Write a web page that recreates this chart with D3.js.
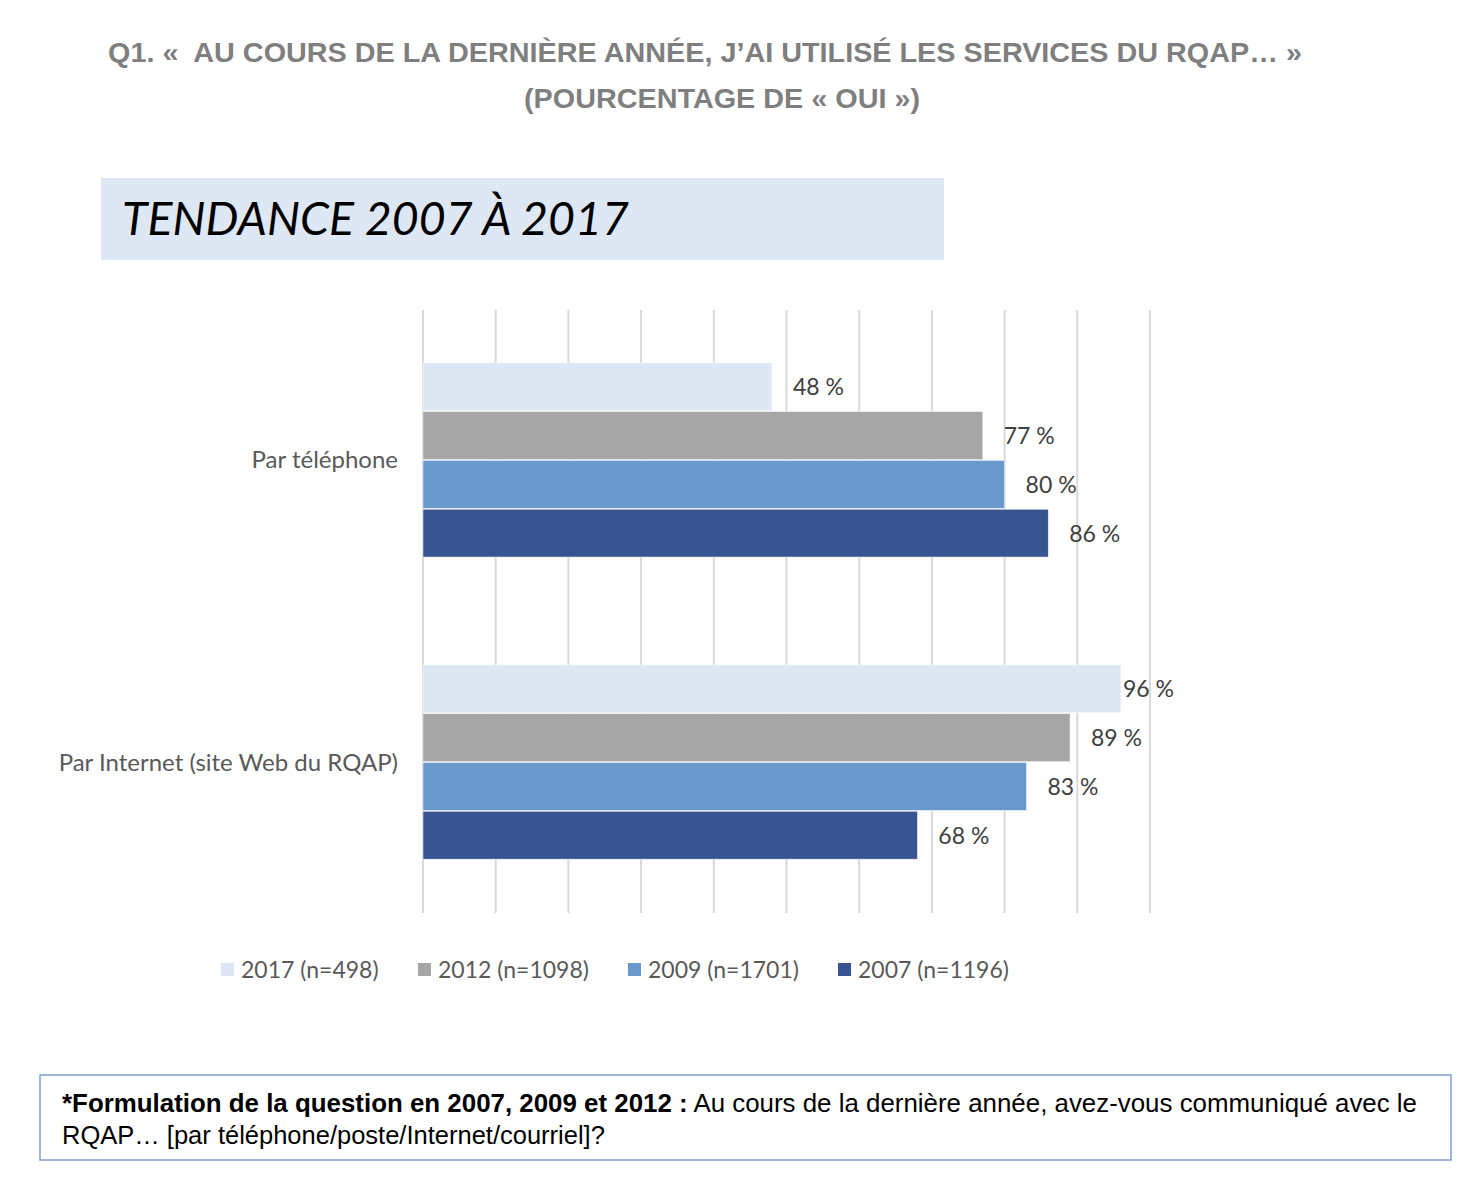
<!DOCTYPE html>
<html lang="fr">
<head>
<meta charset="UTF-8">
<title>Tendance 2007 à 2017</title>
<script src="https://cdn.jsdelivr.net/npm/d3@7/dist/d3.min.js"></script>
<style>
    body { margin: 0; background: #ffffff; }
    svg { display: block; }
</style>
</head>
<body>
<div id="chart"></div>
<script>
    var WIDTH = 1474;
    var HEIGHT = 1184;

    // data
    var CATEGORIES = ["Par téléphone", "Par Internet (site Web du RQAP)"];
    var SERIES = ["2017 (n=498)", "2012 (n=1098)", "2009 (n=1701)", "2007 (n=1196)"];
    var VALUES_2017 = [48, 96];
    var VALUES_2012 = [77, 89];
    var VALUES_2009 = [80, 83];
    var VALUES_2007 = [86, 68];
    var COLORS = ["#dee8f4", "#a6a6a6", "#6a99ce", "#385591"];
    var X_TICKS = [0, 10, 20, 30, 40, 50, 60, 70, 80, 90, 100];

    var allValues = [VALUES_2017, VALUES_2012, VALUES_2009, VALUES_2007];

    var CHART_FONT = "Lato, 'Open Sans', sans-serif";
    var ARIAL = "'Liberation Sans', Arial, sans-serif";
    var TEXT_GRAY = "#595959";

    var svg = d3.select("#chart").append("svg")
        .attr("width", WIDTH)
        .attr("height", HEIGHT);

    // top titles
    svg.append("text")
        .attr("x", 108).attr("y", 62)
        .attr("textLength", 1194)
        .attr("lengthAdjust", "spacingAndGlyphs")
        .style("font-family", ARIAL)
        .style("font-weight", "bold")
        .style("font-size", "28.5px")
        .style("fill", "#7f7f7f")
        .attr("xml:space", "preserve")
        .text("Q1. «  AU COURS DE LA DERNIÈRE ANNÉE, J’AI UTILISÉ LES SERVICES DU RQAP… »");

    svg.append("text")
        .attr("x", 524).attr("y", 108)
        .attr("textLength", 396)
        .attr("lengthAdjust", "spacingAndGlyphs")
        .style("font-family", ARIAL)
        .style("font-weight", "bold")
        .style("font-size", "28.5px")
        .style("fill", "#7f7f7f")
        .text("(POURCENTAGE DE « OUI »)");

    // banner
    svg.append("rect")
        .attr("x", 101).attr("y", 178)
        .attr("width", 843).attr("height", 82)
        .style("fill", "#dee8f4");

    svg.append("text")
        .attr("x", 122).attr("y", 235)
        .style("font-family", CHART_FONT)
        .style("font-style", "italic")
        .style("font-size", "46.5px")
        .style("fill", "#000000")
        .text("TENDANCE 2007 À 2017");

    // chart
    var x = d3.scaleLinear().domain([0, 100]).range([423, 1150]);
    var y0 = d3.scaleBand().domain(CATEGORIES).range([310, 913])
        .paddingInner(0.354).paddingOuter(0.175);
    var y1 = d3.scaleBand().domain(SERIES).range([0, y0.bandwidth()]);

    SERIES.forEach(function(s, si) {
        svg.append("g").selectAll("rect")
            .data(allValues[si])
            .enter().append("rect")
            .attr("x", x(0))
            .attr("y", function(d, i) { return y0(CATEGORIES[i]) + y1(s); })
            .attr("width", function(d) { return x(d) - x(0); })
            .attr("height", y1.bandwidth() - 1)
            .style("fill", COLORS[si])
            .style("stroke", "#ffffff")
            .style("stroke-width", 0.5);
    });

    svg.append("g").selectAll("line")
        .data(X_TICKS)
        .enter().append("line")
        .attr("x1", function(d) { return x(d); })
        .attr("x2", function(d) { return x(d); })
        .attr("y1", 310).attr("y2", 913)
        .style("stroke", "#d9d9d9")
        .style("stroke-width", 2);

    // redraw bars over gridlines (Excel-like)
    SERIES.forEach(function(s, si) {
        svg.append("g").selectAll("rect")
            .data(allValues[si])
            .enter().append("rect")
            .attr("x", x(0))
            .attr("y", function(d, i) { return y0(CATEGORIES[i]) + y1(s); })
            .attr("width", function(d) { return x(d) - x(0); })
            .attr("height", y1.bandwidth() - 1)
            .style("fill", COLORS[si])
            .style("stroke", "#ffffff")
            .style("stroke-width", 0.5);

        svg.append("g").selectAll("text")
            .data(allValues[si])
            .enter().append("text")
            .attr("x", function(d) { return Math.min(x(d) + 21, 1123); })
            .attr("y", function(d, i) { return y0(CATEGORIES[i]) + y1(s) + y1.bandwidth() / 2 + 8; })
            .style("font-family", CHART_FONT)
            .style("font-size", "23px")
            .style("fill", "#404040")
            .text(function(d) { return d + " %"; });
    });

    // category labels
    svg.append("g").selectAll("text")
        .data(CATEGORIES)
        .enter().append("text")
        .attr("x", 398)
        .attr("y", function(d) { return y0(d) + y0.bandwidth() / 2 + 8; })
        .attr("text-anchor", "end")
        .style("font-family", CHART_FONT)
        .style("font-size", "24px")
        .style("fill", TEXT_GRAY)
        .text(function(d) { return d; });

    // legend
    var LEGEND_X = [221, 418, 628, 838];
    var legend = svg.append("g").selectAll("g")
        .data(SERIES)
        .enter().append("g")
        .attr("transform", function(d, i) { return "translate(" + LEGEND_X[i] + ",963)"; });

    legend.append("rect")
        .attr("width", 13).attr("height", 13)
        .style("fill", function(d, i) { return COLORS[i]; });

    legend.append("text")
        .attr("x", 20).attr("y", 15)
        .style("font-family", CHART_FONT)
        .style("font-size", "23px")
        .style("fill", TEXT_GRAY)
        .text(function(d) { return d; });

    // footnote box
    svg.append("rect")
        .attr("x", 40).attr("y", 1075)
        .attr("width", 1411).attr("height", 85)
        .style("fill", "none")
        .style("stroke", "#7ba0d0")
        .style("stroke-width", 1.5);

    var note = svg.append("text")
        .attr("x", 62).attr("y", 1112)
        .attr("textLength", 1355)
        .attr("lengthAdjust", "spacingAndGlyphs")
        .style("font-family", ARIAL)
        .style("font-size", "25.5px")
        .style("fill", "#000000");
    note.append("tspan")
        .style("font-weight", "bold")
        .text("*Formulation de la question en 2007, 2009 et 2012 :");
    note.append("tspan")
        .text(" Au cours de la dernière année, avez-vous communiqué avec le");

    svg.append("text")
        .attr("x", 62).attr("y", 1144)
        .style("font-family", ARIAL)
        .style("font-size", "25.5px")
        .style("fill", "#000000")
        .text("RQAP… [par téléphone/poste/Internet/courriel]?");
</script>
</body>
</html>
